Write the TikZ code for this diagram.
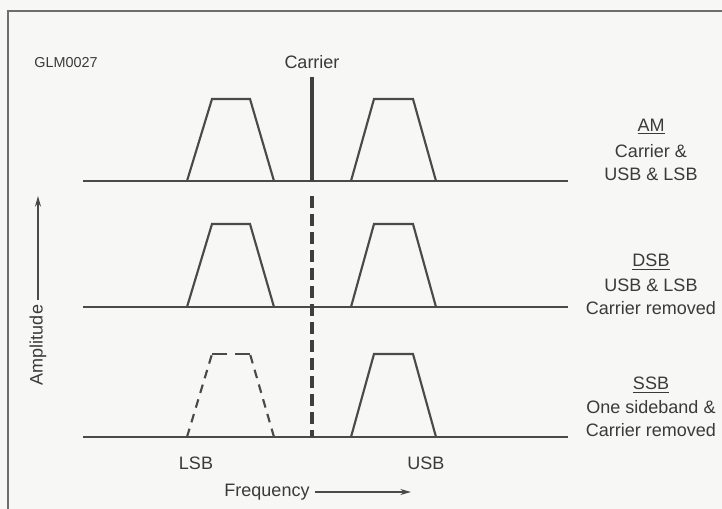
\documentclass[tikz,border=0pt]{standalone}
\usepackage{fontspec}
\setmainfont{Liberation Sans}
\usetikzlibrary{arrows.meta}
\definecolor{ink}{HTML}{4A4A4A}
\definecolor{txt}{HTML}{3A3A3A}
\definecolor{bg}{HTML}{F7F7F5}
\begin{document}
\begin{tikzpicture}[x=0.75pt,y=-0.75pt,
  frameline/.style={draw=ink!80,line width=1pt},
  baseline/.style={draw=ink,line width=1.1pt},
  band/.style={draw=ink,line width=1.6pt,line join=miter},
  dband/.style={band,dash pattern=on 6.5pt off 5pt},
  carrier/.style={draw=ink!85!black,line width=2.3pt},
  dcarrier/.style={carrier,dash pattern=on 9pt off 4.5pt},
  lbl/.style={text=txt,font=\fontsize{13.5}{16}\selectfont,inner sep=0pt},
  axislbl/.style={lbl,inner sep=0pt,outer sep=4pt},
  arr/.style={draw=ink,line width=1.1pt,-{Stealth[length=8pt,width=4.5pt]}}]
\fill[bg] (0,0) rectangle (722,509);
\useasboundingbox (0,0) rectangle (722,509);
% frame
\draw[frameline] (8,509) -- (8,11) -- (722,11);
% header texts
\node[lbl,font=\fontsize{10.8}{13}\selectfont] (glm) at (66,63) {GLM0027};
\node[lbl] (car) at (312,62) {Carrier};
% baselines
\draw[baseline] (83,181) -- (568,181);
\draw[baseline] (83,307) -- (568,307);
\draw[baseline] (83,437) -- (568,437);
% carrier lines
\draw[carrier] (312,77) -- (312,181);
\draw[dcarrier] (312,196) -- (312,437);
% AM bands
\draw[band] (187,181) -- (212,99) -- (250,99) -- (274,181);
\draw[band] (351,181) -- (374,99) -- (413,99) -- (436,181);
% DSB bands
\draw[band] (187,307) -- (212,224) -- (250,224) -- (274,307);
\draw[band] (351,307) -- (374,224) -- (413,224) -- (436,307);
% SSB bands
\draw[dband] (187,437) -- (212,354);
\draw[dband] (274,437) -- (250,354);
\draw[band] (212,354) -- (227,354);
\draw[band] (235,354) -- (250,354);
\draw[band] (351,437) -- (374,354) -- (413,354) -- (436,437);
% right labels
\node[lbl] (am1) at (651,127) {\underline{AM}};
\node[lbl] (am2) at (651,151) {Carrier \&};
\node[lbl] (am3) at (651,174) {USB \& LSB};
\node[lbl] (dsb1) at (651,262) {\underline{DSB}};
\node[lbl] (dsb2) at (651,285) {USB \& LSB};
\node[lbl] (dsb3) at (651,308) {Carrier removed};
\node[lbl] (ssb1) at (651,385) {\underline{SSB}};
\node[lbl] (ssb2) at (651,407) {One sideband \&};
\node[lbl] (ssb3) at (651,430) {Carrier removed};
% bottom labels
\node[lbl] (lsb) at (196,463) {LSB};
\node[lbl] (usb) at (426,463) {USB};
\node[axislbl] (freq) at (267,492) {Frequency};
\coordinate (freqtip) at (411,492);
\draw[arr] (freq.east) -- (freqtip);
% amplitude
\node[axislbl,rotate=90] (amp) at (38,345) {Amplitude};
\coordinate (amptip) at (38,196);
\draw[arr] (amp.east) -- (amptip);
\end{tikzpicture}
\end{document}
